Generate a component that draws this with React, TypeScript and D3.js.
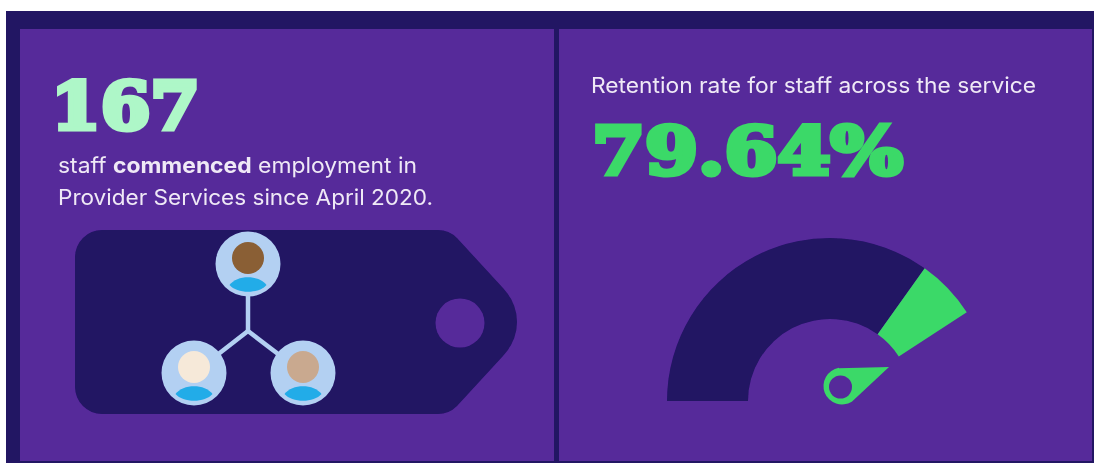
import React from 'react';
import * as d3 from 'd3';

// values
const staffCommenced = ['167'];
const retentionRate = [79.64];
const gaugeStops = [0, 79.64, 93.3];
const gaugeColours = ['#211364', '#3bd968'];
const skinTones = ['#8a5f35', '#f6e9d9', '#c9a98f'];

const PURPLE = '#572a9a';
const NAVY = '#211364';
const TEXT = '#efe9f6';
const BODY_FONT = 'Inter, Roboto, sans-serif';
const SLAB_FONT = '"DejaVu Serif", serif';

const width = 1094;
const height = 463;
const rad = Math.PI / 180;

// gauge: 0 sits at the left end, scale runs clockwise
const gaugeX = 830;
const gaugeY = 401;
const angle = d3
  .scaleLinear()
  .domain([0, 100])
  .range([-90 * rad, (-90 + 157.6) * rad]);
const arc = d3.arc().innerRadius(82).outerRadius(163);

function tagPath() {
  const p = d3.path();
  const r = 27;
  p.moveTo(75 + r, 230);
  p.lineTo(438, 230);
  p.quadraticCurveTo(449, 230, 457, 238);
  p.lineTo(503, 288);
  p.quadraticCurveTo(517, 303, 517, 322);
  p.quadraticCurveTo(517, 341, 503, 356);
  p.lineTo(457, 406);
  p.quadraticCurveTo(449, 414, 438, 414);
  p.lineTo(75 + r, 414);
  p.arcTo(75, 414, 75, 414 - r, r);
  p.lineTo(75, 230 + r);
  p.arcTo(75, 230, 75 + r, 230, r);
  p.closePath();
  return p.toString();
}

function needlePath() {
  const p = d3.path();
  p.moveTo(889, 367);
  p.lineTo(839, 368.2);
  p.arc(842, 386, 18.5, -100 * rad, 58 * rad, true);
  p.closePath();
  return p.toString();
}

function bodyPath(cx: number, cy: number) {
  const p = d3.path();
  p.moveTo(cx - 18.5, cy + 21);
  p.bezierCurveTo(cx - 11, cy + 10.5, cx + 11, cy + 10.5, cx + 18.5, cy + 21);
  p.bezierCurveTo(cx + 11, cy + 30, cx - 11, cy + 30, cx - 18.5, cy + 21);
  p.closePath();
  return p.toString();
}

const avatars = [
  { x: 248, y: 264 },
  { x: 194, y: 373 },
  { x: 303, y: 373 },
];
const hub = { x: 248, y: 331 };

export default function App() {
  return (
    <svg
      width={width}
      height={height}
      style={{ position: 'absolute', left: 0, top: 0, display: 'block' }}
    >
      <defs>
        <filter id="soft" x="0" y="0" width="100%" height="100%">
          <feGaussianBlur stdDeviation="0.5" />
        </filter>
      </defs>
      <rect width={width} height={height} fill="#fff" />
      <g filter="url(#soft)">
        <rect x={6} y={11} width={1088} height={452} fill={NAVY} />
        <rect x={20} y={29} width={534} height={432} fill={PURPLE} />
        <rect x={559} y={29} width={533} height={432} fill={PURPLE} />

        {/* left panel */}
        <text
          x={51}
          y={129}
          fontFamily={SLAB_FONT}
          fontWeight={700}
          fontSize={66}
          fill="#aef7c8"
          stroke="#aef7c8"
          strokeWidth={5}
          textLength={149}
          lengthAdjust="spacingAndGlyphs"
        >
          {staffCommenced[0]}
        </text>
        <text
          x={58}
          y={173}
          fontFamily={BODY_FONT}
          fontSize={21.5}
          fill={TEXT}
          textLength={359}
          lengthAdjust="spacingAndGlyphs"
        >
          staff <tspan fontWeight={700}>commenced</tspan> employment in
        </text>
        <text
          x={58}
          y={205}
          fontFamily={BODY_FONT}
          fontSize={21.5}
          fill={TEXT}
          textLength={375}
          lengthAdjust="spacingAndGlyphs"
        >
          Provider Services since April 2020.
        </text>

        <path d={tagPath()} fill={NAVY} />
        <circle cx={460} cy={323} r={24.5} fill={PURPLE} />
        {avatars.map((a, i) => (
          <line
            key={'spoke' + i}
            x1={hub.x}
            y1={hub.y}
            x2={a.x}
            y2={a.y}
            stroke="#b3d0f2"
            strokeWidth={4.5}
          />
        ))}
        {avatars.map((a, i) => (
          <g key={i}>
            <circle cx={a.x} cy={a.y} r={32.5} fill="#b3d0f2" />
            <circle cx={a.x} cy={a.y - 6} r={16} fill={skinTones[i]} />
            <path d={bodyPath(a.x, a.y)} fill="#22ace8" />
          </g>
        ))}

        {/* right panel */}
        <text
          x={592}
          y={174}
          fontFamily={SLAB_FONT}
          fontWeight={700}
          fontSize={66}
          fill="#3bd968"
          stroke="#3bd968"
          strokeWidth={5}
          textLength={311}
          lengthAdjust="spacingAndGlyphs"
        >
          {retentionRate[0].toFixed(2)}%
        </text>
        <text
          x={591}
          y={93}
          fontFamily={BODY_FONT}
          fontSize={21.5}
          fill={TEXT}
          textLength={445}
          lengthAdjust="spacingAndGlyphs"
        >
          Retention rate for staff across the service
        </text>

        <g transform={`translate(${gaugeX},${gaugeY})`}>
          {gaugeColours.map((c, i) => (
            <path
              key={c}
              d={arc({
                startAngle: angle(gaugeStops[i]),
                endAngle: angle(gaugeStops[i + 1]),
              } as any) as string}
              fill={c}
            />
          ))}
        </g>
        <path d={needlePath()} fill="#3bd968" />
        <circle cx={840.5} cy={387} r={11.5} fill={PURPLE} />
      </g>
    </svg>
  );
}
